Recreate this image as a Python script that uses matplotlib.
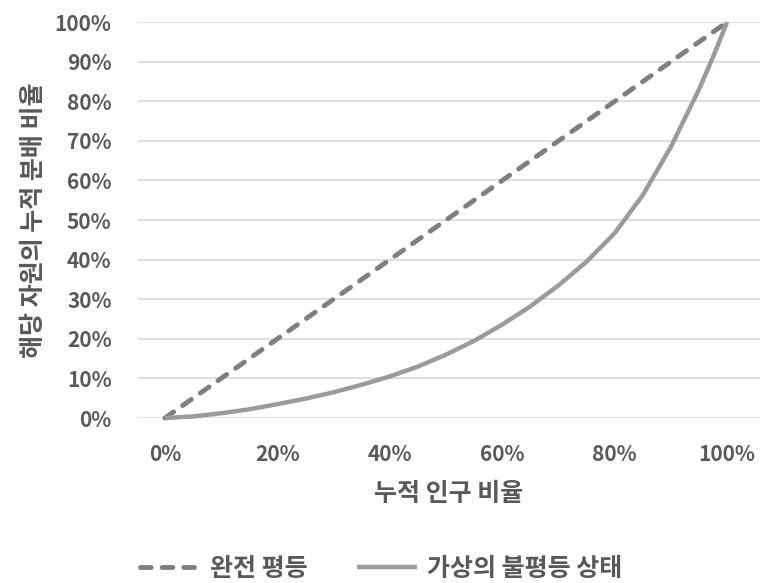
import matplotlib.pyplot as plt
from matplotlib.ticker import PercentFormatter

plt.rcParams['font.family'] = ['Noto Sans CJK KR', 'DejaVu Sans']
plt.rcParams['font.weight'] = 'bold'

# cumulative population share (x) vs cumulative resource share (y)
pop_share = [0.0, 0.05, 0.1, 0.15, 0.2, 0.25, 0.3, 0.35, 0.4, 0.45, 0.5, 0.55,
             0.6, 0.65, 0.7, 0.75, 0.8, 0.85, 0.9, 0.95, 0.975, 1.0]
equal_share = [0.0, 0.05, 0.1, 0.15, 0.2, 0.25, 0.3, 0.35, 0.4, 0.45, 0.5, 0.55,
               0.6, 0.65, 0.7, 0.75, 0.8, 0.85, 0.9, 0.95, 0.975, 1.0]
unequal_share = [0.0, 0.004, 0.012, 0.022, 0.035, 0.049, 0.065, 0.084, 0.105, 0.13,
                 0.16, 0.195, 0.236, 0.282, 0.335, 0.395, 0.467, 0.563, 0.685, 0.83,
                 0.912, 1.0]

x_ticks = [0.0, 0.2, 0.4, 0.6, 0.8, 1.0]
y_ticks = [0.0, 0.1, 0.2, 0.3, 0.4, 0.5, 0.6, 0.7, 0.8, 0.9, 1.0]

text_color = '#595959'

fig = plt.figure(figsize=(7.62, 5.83), dpi=100)
ax = fig.add_axes([0.181, 0.283, 0.816, 0.679])

ax.plot(pop_share, equal_share, color='#7f7f7f', lw=3.5, ls=(0, (2.2, 2.25)),
        dash_capstyle='round', clip_on=False, zorder=3, label='완전 평등')
ax.plot(pop_share, unequal_share, color='#9b9b9b', lw=3.2,
        solid_capstyle='butt', solid_joinstyle='round', clip_on=False, zorder=3,
        label='가상의 불평등 상태')

ax.set_xlim(-0.048, 1.058)
ax.set_ylim(0, 1)
ax.set_xticks(x_ticks)
ax.set_yticks(y_ticks)
ax.xaxis.set_major_formatter(PercentFormatter(1.0, decimals=0))
ax.yaxis.set_major_formatter(PercentFormatter(1.0, decimals=0))

ax.grid(axis='y', color='#d9d9d9', lw=1.2)
ax.set_axisbelow(True)
for s in ax.spines.values():
    s.set_visible(False)
ax.tick_params(length=0, labelsize=15, labelcolor=text_color)
ax.tick_params(axis='y', pad=19)
ax.tick_params(axis='x', pad=19)

ax.set_xlabel('누적 인구 비율', fontsize=18, fontweight='bold', color=text_color,
              labelpad=12)
ax.set_ylabel('해당 자원의 누적 분배 비율', fontsize=18, fontweight='bold',
              color=text_color, labelpad=6)

fig.legend(loc='lower center', bbox_to_anchor=(0.5, -0.035), ncol=2, frameon=False,
           prop={'size': 18, 'weight': 'bold'}, labelcolor=text_color,
           handlelength=2.4, columnspacing=2.0, handletextpad=0.4)

fig.savefig('out.png', dpi=100)
